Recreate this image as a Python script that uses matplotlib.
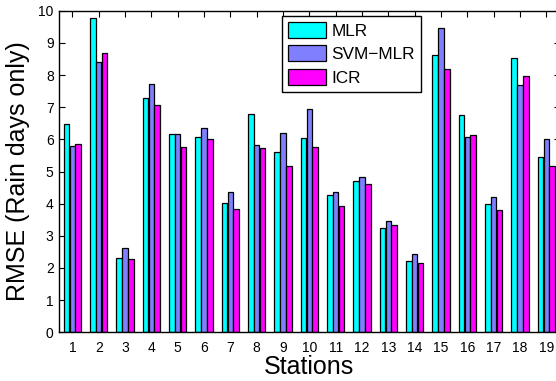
import numpy as np
import matplotlib
matplotlib.use("Agg")
import matplotlib.pyplot as plt

stations = list(range(1, 20))
series_names = ["MLR", "SVM\u2212MLR", "ICR"]
mlr = [6.47, 9.76, 2.30, 7.28, 6.16, 6.08, 4.01, 6.80, 5.62, 6.03,
       4.26, 4.69, 3.23, 2.23, 8.62, 6.75, 3.98, 8.53, 5.45]
svm_mlr = [5.80, 8.40, 2.61, 7.72, 6.16, 6.34, 4.35, 5.82, 6.21, 6.95,
           4.36, 4.82, 3.47, 2.44, 9.47, 6.06, 4.21, 7.70, 6.00]
icr = [5.86, 8.69, 2.29, 7.07, 5.75, 6.00, 3.83, 5.74, 5.16, 5.76,
       3.92, 4.60, 3.34, 2.15, 8.20, 6.13, 3.79, 7.96, 5.18]
colors = ["#00FFFF", "#8080FF", "#FF00FF"]
yticks = list(range(0, 11))

plt.rcParams['font.family'] = ['Liberation Sans', 'DejaVu Sans']

W, H = 556, 381
fig = plt.figure(figsize=(W / 100, H / 100), dpi=100)
left, right = 59.2 / W, 559.5 / W
bottom, top = 1 - 332.3 / H, 1 - 10.7 / H
ax = fig.add_axes([left, bottom, right - left, top - bottom])

x = np.array(stations, dtype=float)
off = 0.222
width = 0.21
for i, (vals, c, name) in enumerate(zip([mlr, svm_mlr, icr], colors, series_names)):
    ax.bar(x + (i - 1) * off, vals, width=width, color=c, edgecolor="black",
           linewidth=0.9, label=name, zorder=2)

ax.set_xlim(0.5, 19.5)
ax.set_ylim(0, 10)
ax.set_xticks(stations)
ax.set_xticklabels([str(s) for s in stations])
ax.set_yticks(yticks)
ax.set_yticklabels([str(t) for t in yticks])
ax.tick_params(direction="in", length=4, width=0.8, labelsize=10,
               top=True, right=True, pad=4)
ax.tick_params(axis="x", pad=6)
for s in ax.spines.values():
    s.set_linewidth(1.0)

ax.set_xlabel("Stations", fontsize=18, labelpad=0)
ax.set_ylabel("RMSE (Rain days only)", fontsize=18, labelpad=6)

leg = ax.legend(loc="upper left",
                bbox_to_anchor=((282 - 59.2) / (559.5 - 59.2), (332.3 - 16) / (332.3 - 10.7)),
                fontsize=12.4, frameon=True, fancybox=False, framealpha=1,
                edgecolor="black", borderpad=0.36, labelspacing=0.37,
                handlelength=2.2, handleheight=1.05, handletextpad=0.3,
                borderaxespad=0)
leg.get_frame().set_linewidth(1.0)

fig.savefig("out.png", dpi=100, facecolor="white")
